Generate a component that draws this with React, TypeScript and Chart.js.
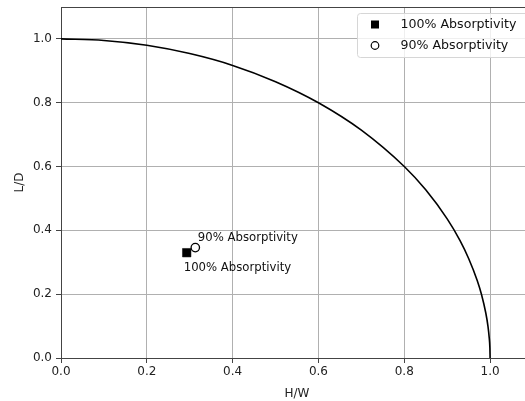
import React, { useEffect, useRef } from "react";
import { Chart, registerables } from "chart.js";

Chart.register(...registerables);

const curveX = [0, 0.1, 0.2, 0.3, 0.4, 0.5, 0.6, 0.7, 0.8, 0.85, 0.9, 0.93, 0.95, 0.97, 0.98, 0.99, 0.995, 0.998, 0.9995, 1.0];
const curveY = [1.0, 0.995, 0.98, 0.954, 0.917, 0.866, 0.8, 0.714, 0.6, 0.527, 0.436, 0.368, 0.312, 0.243, 0.199, 0.141, 0.1, 0.063, 0.032, 0.0];

const seriesNames = ["100% Absorptivity", "90% Absorptivity"];
const pointX = [0.293, 0.313];
const pointY = [0.33, 0.346];

const xTicks = [0, 0.2, 0.4, 0.6, 0.8, 1.0];
const yTicks = [0, 0.2, 0.4, 0.6, 0.8, 1.0];

const FONT = "'DejaVu Sans', sans-serif";

const overlayPlugin = {
  id: "overlay",
  afterDatasetsDraw(chart: any) {
    const { ctx, chartArea, scales } = chart;
    ctx.save();
    // top frame line
    ctx.strokeStyle = "#444";
    ctx.lineWidth = 1;
    ctx.beginPath();
    ctx.moveTo(chartArea.left, chartArea.top + 0.5);
    ctx.lineTo(chartArea.right, chartArea.top + 0.5);
    ctx.stroke();

    // annotations
    ctx.fillStyle = "#111";
    ctx.font = `11.7px ${FONT}`;
    ctx.textBaseline = "middle";
    ctx.textAlign = "left";
    const sx = scales.x.getPixelForValue(pointX[0]);
    const sy = scales.y.getPixelForValue(pointY[0]);
    const cx = scales.x.getPixelForValue(pointX[1]);
    const cy = scales.y.getPixelForValue(pointY[1]);
    ctx.fillText(seriesNames[1], cx + 2.5, cy - 10);
    ctx.fillText(seriesNames[0], sx - 3, sy + 15.5);

    // legend
    const lx = 357, ly = 13, lw = 180, lh = 44;
    ctx.fillStyle = "rgba(255,255,255,0.8)";
    ctx.strokeStyle = "#d6d6d6";
    ctx.lineWidth = 1;
    ctx.beginPath();
    (ctx as any).roundRect(lx + 0.5, ly + 0.5, lw, lh, 3);
    ctx.fill();
    ctx.stroke();

    ctx.fillStyle = "#000";
    ctx.fillRect(375 - 4, 24.5 - 4, 8, 8);
    ctx.beginPath();
    ctx.arc(375, 45.5, 3.8, 0, Math.PI * 2);
    ctx.fillStyle = "#fff";
    ctx.fill();
    ctx.strokeStyle = "#000";
    ctx.lineWidth = 1.2;
    ctx.stroke();

    ctx.fillStyle = "#111";
    ctx.font = `12.6px ${FONT}`;
    ctx.fillText(seriesNames[0], 400.5, 24.5);
    ctx.fillText(seriesNames[1], 400.5, 45.5);
    ctx.restore();
  },
};

export default function App() {
  const ref = useRef<HTMLCanvasElement>(null);
  useEffect(() => {
    if (!ref.current) return;
    const chart = new Chart(ref.current, {
      type: "scatter",
      data: {
        datasets: [
          {
            label: "curve",
            data: curveX.map((x, i) => ({ x, y: curveY[i] })),
            showLine: true,
            borderColor: "#000",
            borderWidth: 1.6,
            pointRadius: 0,
            cubicInterpolationMode: "monotone",
            order: 2,
          } as any,
          {
            label: seriesNames[0],
            data: [{ x: pointX[0], y: pointY[0] }],
            pointStyle: "rect",
            pointRadius: 6,
            backgroundColor: "#000",
            borderColor: "#000",
            borderWidth: 0.5,
            order: 1,
          },
          {
            label: seriesNames[1],
            data: [{ x: pointX[1], y: pointY[1] }],
            pointStyle: "circle",
            pointRadius: 4.2,
            backgroundColor: "#fff",
            borderColor: "#000",
            borderWidth: 1.3,
            order: 0,
          },
        ],
      },
      options: {
        animation: false,
        responsive: false,
        layout: { padding: { top: 7, right: 12, left: 0, bottom: 0 } },
        plugins: { legend: { display: false }, tooltip: { enabled: false } },
        scales: {
          x: {
            type: "linear",
            min: 0,
            max: 1.1,
            afterBuildTicks: (axis: any) => {
              axis.ticks = xTicks.map((v) => ({ value: v }));
            },
            afterFit: (axis: any) => {
              axis.height = 43;
              axis.paddingLeft = 0;
              axis.paddingRight = 0;
            },
            ticks: {
              callback: (v: any) => Number(v).toFixed(1),
              color: "#222",
              font: { family: FONT, size: 12 },
              padding: 2,
              maxRotation: 0,
            },
            grid: { color: "#b0b0b0", tickColor: "#444", tickLength: 5, lineWidth: 1 },
            border: { color: "#444", width: 1 },
            title: {
              display: true,
              text: "H/W",
              color: "#222",
              font: { family: FONT, size: 12 },
              padding: { top: 1, bottom: 0 },
            },
          },
          y: {
            type: "linear",
            min: 0,
            max: 1.1,
            afterBuildTicks: (axis: any) => {
              axis.ticks = yTicks.map((v) => ({ value: v }));
            },
            afterFit: (axis: any) => {
              axis.width = 61;
              axis.paddingTop = 0;
              axis.paddingBottom = 0;
            },
            ticks: {
              callback: (v: any) => Number(v).toFixed(1),
              color: "#222",
              font: { family: FONT, size: 12 },
              padding: 4,
            },
            grid: { color: "#b0b0b0", tickColor: "#444", tickLength: 5, lineWidth: 1 },
            border: { color: "#444", width: 1 },
            title: {
              display: true,
              text: "L/D",
              color: "#222",
              font: { family: FONT, size: 12 },
              padding: { top: 13, bottom: 0 },
            },
          },
        },
      },
      plugins: [overlayPlugin],
    });
    return () => chart.destroy();
  }, []);
  return (
    <div
      style={{
        position: "fixed",
        left: 0,
        top: 0,
        width: 525,
        height: 401,
        overflow: "hidden",
        background: "#fff",
      }}
    >
      <canvas ref={ref} width={545} height={401} style={{ width: 545, height: 401 }} />
    </div>
  );
}
